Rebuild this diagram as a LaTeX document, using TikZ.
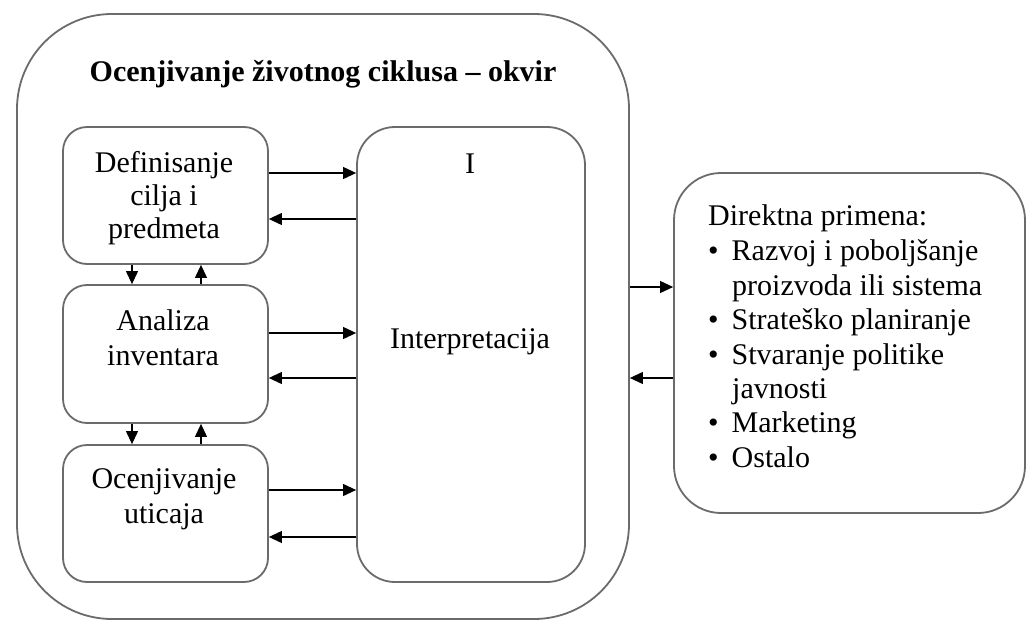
\documentclass[tikz,border=0pt]{standalone}
\usepackage{fontspec}
\setmainfont{Liberation Serif}
\usetikzlibrary{arrows.meta}
\definecolor{boxgray}{gray}{0.42}
\begin{document}
\begin{tikzpicture}[x=1pt,y=-1pt,
  box/.style={draw=boxgray, line width=1.8pt, rounded corners=#1, inner sep=0pt, fill=white},
  txt/.style={font=\fontsize{30}{34}\selectfont, anchor=base, inner sep=0pt},
  ttl/.style={font=\fontsize{30}{34}\selectfont\bfseries, anchor=base, inner sep=0pt},
  lft/.style={font=\fontsize{30}{34}\selectfont, anchor=base west, inner sep=0pt},
  conn/.style={draw=black, line width=1.1pt, -{Triangle[length=13pt,width=12pt]}},
]
\useasboundingbox (0,0) rectangle (1028,623);
% boxes
\node[box=95pt, minimum width=612pt, minimum height=605pt] (frame) at (323,316.5) {};
\node[box=24pt, minimum width=205pt, minimum height=137pt] (def) at (165.5,195.5) {};
\node[box=24pt, minimum width=205pt, minimum height=138pt] (ana) at (165.5,354) {};
\node[box=24pt, minimum width=205pt, minimum height=137pt] (oce) at (165.5,513.5) {};
\node[box=38pt, minimum width=228pt, minimum height=455pt] (int) at (471,354.5) {};
\node[box=47pt, minimum width=351pt, minimum height=340pt] (app) at (849.5,343) {};
% texts
\node[ttl] (title) at (323,82) {Ocenjivanje životnog ciklusa – okvir};
\node[txt] (d1) at (164,172) {Definisanje};
\node[txt] (d2) at (164,205) {cilja i};
\node[txt] (d3) at (164,238) {predmeta};
\node[txt] (a1) at (163,330) {Analiza};
\node[txt] (a2) at (163,365) {inventara};
\node[txt] (o1) at (164,488) {Ocenjivanje};
\node[txt] (o2) at (164,523) {uticaja};
\node[txt] (i1) at (470,174) {I};
\node[txt] (i2) at (470,348) {Interpretacija};
\node[lft] (r0) at (708,225) {Direktna primena:};
\node[lft] (r1) at (708,260) {•\hspace{13pt}Razvoj i poboljšanje};
\node[lft] (r2) at (732,295) {proizvoda ili sistema};
\node[lft] (r3) at (708,329) {•\hspace{13pt}Strateško planiranje};
\node[lft] (r4) at (708,364) {•\hspace{13pt}Stvaranje politike};
\node[lft] (r5) at (732,398) {javnosti};
\node[lft] (r6) at (708,432) {•\hspace{13pt}Marketing};
\node[lft] (r7) at (708,467) {•\hspace{13pt}Ostalo};
% horizontal connectors
\draw[conn] (def.east |- 0,173) -- (int.west |- 0,173);
\draw[conn] (int.west |- 0,219) -- (def.east |- 0,219);
\draw[conn] (ana.east |- 0,333) -- (int.west |- 0,333);
\draw[conn] (int.west |- 0,378) -- (ana.east |- 0,378);
\draw[conn] (oce.east |- 0,490) -- (int.west |- 0,490);
\draw[conn] (int.west |- 0,537) -- (oce.east |- 0,537);
% vertical connectors
\draw[conn] (def.south -| 132,0) -- (ana.north -| 132,0);
\draw[conn] (ana.north -| 201,0) -- (def.south -| 201,0);
\draw[conn] (ana.south -| 132,0) -- (oce.north -| 132,0);
\draw[conn] (oce.north -| 201,0) -- (ana.south -| 201,0);
% frame to application
\draw[conn] (frame.east |- 0,287) -- (app.west |- 0,287);
\draw[conn] (app.west |- 0,378) -- (frame.east |- 0,378);
\end{tikzpicture}
\end{document}
